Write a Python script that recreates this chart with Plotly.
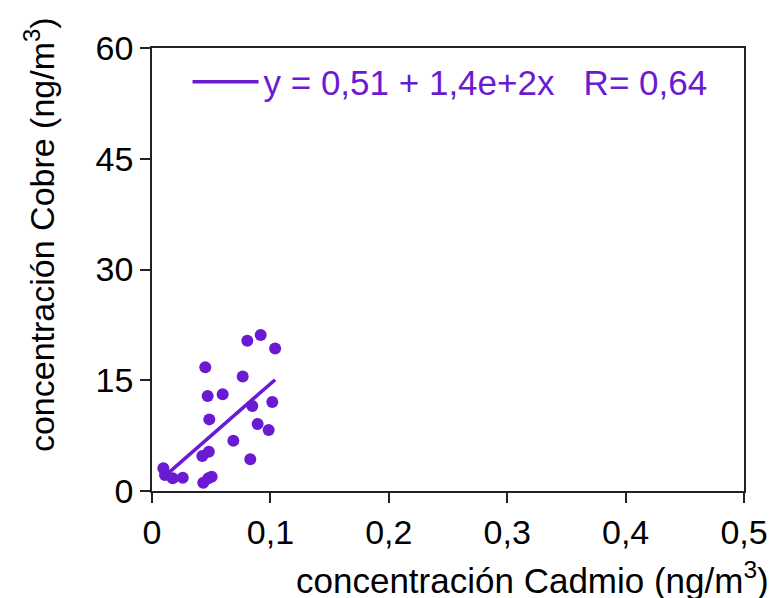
import plotly.graph_objects as go

# Data
cadmio = [0.0096, 0.011, 0.0175, 0.026, 0.0433, 0.0476, 0.0504, 0.0425, 0.048,
          0.0484, 0.047, 0.045, 0.0597, 0.0687, 0.0766, 0.0805, 0.0918, 0.104,
          0.0847, 0.1016, 0.0892, 0.0985, 0.083]
cobre = [3.07, 2.17, 1.72, 1.8, 1.13, 1.72, 1.94, 4.74, 5.33,
         9.7, 12.87, 16.75, 13.1, 6.82, 15.5, 20.36, 21.13, 19.3,
         11.5, 12.05, 9.07, 8.26, 4.29]
fit_intercept = 0.51
fit_slope = 140.0
fit_label = "y = 0,51 + 1,4e+2x\u00a0\u00a0\u00a0R= 0,64"
x_ticks = [0, 0.1, 0.2, 0.3, 0.4, 0.5]
x_ticktext = ["0", "0,1", "0,2", "0,3", "0,4", "0,5"]
y_ticks = [0, 15, 30, 45, 60]

purple = "#6a1bd1"
font_family = "Liberation Sans, Arial, sans-serif"

line_x = [min(cadmio), max(cadmio)]
line_y = [fit_intercept + fit_slope * v for v in line_x]

fig = go.Figure()
fig.add_trace(go.Scatter(
    x=cadmio, y=cobre, mode="markers",
    marker=dict(color=purple, size=12),
    showlegend=False, cliponaxis=False,
))
fig.add_trace(go.Scatter(
    x=line_x, y=line_y, mode="lines",
    line=dict(color=purple, width=3.5),
    name=fit_label, showlegend=True,
))

axis_common = dict(
    showgrid=False, zeroline=False, automargin=False,
    showline=True, linecolor="#222", linewidth=1.5, mirror=True,
    ticks="outside", ticklen=10, tickwidth=1.5, tickcolor="#222",
    tickfont=dict(size=34, color="black", family=font_family),
)

fig.update_layout(
    width=773, height=598,
    margin=dict(l=152, r=29, t=48, b=107, autoexpand=False),
    paper_bgcolor="white", plot_bgcolor="white",
    font=dict(family=font_family, size=34, color="black"),
    legend=dict(
        x=0.06, y=0.99, xanchor="left", yanchor="top",
        bgcolor="rgba(0,0,0,0)",
        font=dict(size=35, color=purple, family=font_family),
        itemwidth=66,
    ),
    xaxis=dict(range=[0, 0.5], tickvals=x_ticks, ticktext=x_ticktext, **axis_common),
    yaxis=dict(range=[0, 60], tickvals=y_ticks, **axis_common),
    annotations=[
        dict(text="concentración Cadmio (ng/m<sup>3</sup>)", xref="paper", yref="paper",
             x=0.643, y=-0.196, xanchor="center", yanchor="middle", showarrow=False,
             font=dict(size=35, color="black", family=font_family)),
        dict(text="concentración Cobre (ng/m<sup>3</sup>)", xref="paper", yref="paper",
             x=-0.189, y=0.578, xanchor="center", yanchor="middle", showarrow=False,
             textangle=-90,
             font=dict(size=34, color="black", family=font_family)),
    ],
)

fig.write_html("out.html")
